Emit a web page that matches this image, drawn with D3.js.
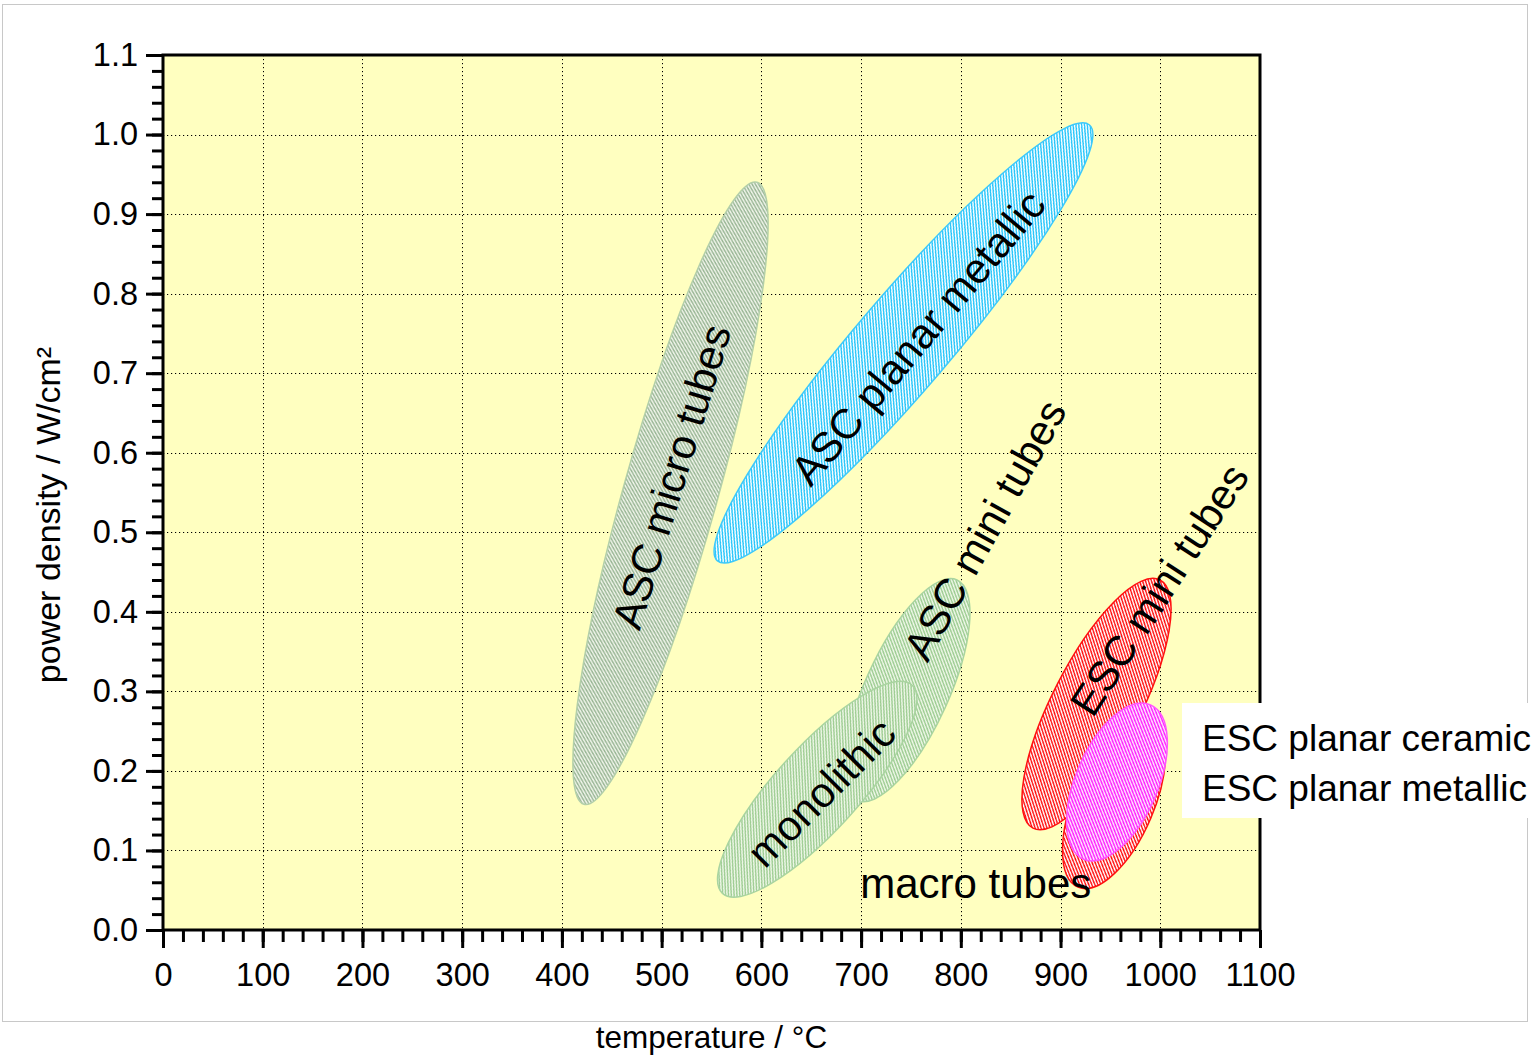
<!DOCTYPE html>
<html>
<head>
<meta charset="utf-8">
<script src="https://cdn.jsdelivr.net/npm/d3@7"></script>
<style>
  html, body { margin: 0; padding: 0; background: #fff; }
  svg { display: block; }
  text { font-family: "Liberation Sans", Arial, sans-serif; fill: #000; }
</style>
</head>
<body>
<svg id="chart" width="1537" height="1056"></svg>
<script>
// ---- data -------------------------------------------------------------
const xTicks = [0, 100, 200, 300, 400, 500, 600, 700, 800, 900, 1000, 1100];
const yTicks = [0.0, 0.1, 0.2, 0.3, 0.4, 0.5, 0.6, 0.7, 0.8, 0.9, 1.0, 1.1];

// operating regions: ends of each ellipse's long axis (temperature °C, power density W/cm²)
const regionIds   = ["ascMicro", "ascPlanar", "ascMini", "monolithic", "escMini", "escPlanarA", "escPlanarB"];
const regionT1    = [595.6, 929.0, 796.2, 751.0, 999.7, 989.7, 990.2];
const regionP1    = [0.940, 1.012, 0.440, 0.308, 0.440, 0.2665, 0.283];
const regionT2    = [422.2, 556.0, 695.9, 561.0, 872.4, 917.5, 923.0];
const regionP2    = [0.158, 0.464, 0.163, 0.046, 0.128, 0.054, 0.089];

const labelTexts  = ["ASC micro tubes", "ASC planar metallic", "ASC mini tubes", "monolithic", "ESC mini tubes", "macro tubes"];
const labelT      = [510, 757, 824, 660, 999, 815];
const labelP      = [0.570, 0.745, 0.503, 0.173, 0.428, 0.040];
const legendTexts = ["ESC planar ceramic", "ESC planar metallic"];

// ---- styles -----------------------------------------------------------
const regionStyle = {
  ascMicro:   { half: 47, line: "#9cb898", gap: "#eef3e8", edge: "#b3cfa9" },
  ascPlanar:  { half: 47, line: "#22c4fa", gap: "#ffffff", edge: "#3dc9fb" },
  ascMini:    { half: 42, line: "#9dcc92", gap: "#eff8e8", edge: "#a9d4a0" },
  monolithic: { half: 42, line: "#9dcc92", gap: "#eff8e8", edge: "#a9d4a0" },
  escMini:    { half: 44, line: "#ff1010", gap: "#ffffff", edge: "#ff1010" },
  escPlanarA: { half: 40, line: "#ff1010", gap: "#ffffff", edge: "#ff1010" },
  escPlanarB: { half: 41, line: "#ff22ff", gap: "#ffe6ff", edge: "#ff55ff" }
};
const labelAngle = [-73, -50, -61, -45, -57, 0];
// pixel cells of one 4x4 tile of the "/" hatch
const hatchCells = [[2,0],[3,0],[1,1],[2,1],[0,2],[1,2],[3,3],[0,3]];

// ---- layout -----------------------------------------------------------
const svg = d3.select("#chart");
const plot = { left: 163, right: 1260, top: 55, bottom: 930 };

const x = d3.scaleLinear().domain([0, 1100]).range([plot.left, plot.right]);
const y = d3.scaleLinear().domain([0, 1.1]).range([plot.bottom, plot.top]);

// outer frame
svg.append("rect")
  .attr("x", 2.5).attr("y", 4.5).attr("width", 1525).attr("height", 1017)
  .attr("fill", "#fff").attr("stroke", "#c8c8c8").attr("stroke-width", 1);

// plot background
svg.append("rect")
  .attr("x", plot.left).attr("y", plot.top)
  .attr("width", plot.right - plot.left).attr("height", plot.bottom - plot.top)
  .attr("fill", "#ffffc0");

// dotted grid
const grid = svg.append("g").attr("stroke", "#000").attr("stroke-width", 1)
  .attr("stroke-dasharray", "1.2,2.8");
grid.selectAll("line.gx").data(xTicks.slice(1, -1)).join("line")
  .attr("x1", d => Math.round(x(d)) + 0.5).attr("x2", d => Math.round(x(d)) + 0.5)
  .attr("y1", plot.top).attr("y2", plot.bottom);
grid.selectAll("line.gy").data(yTicks.slice(1, -1)).join("line")
  .attr("y1", d => Math.round(y(d)) + 0.5).attr("y2", d => Math.round(y(d)) + 0.5)
  .attr("x1", plot.left).attr("x2", plot.right);

// hatch patterns
const defs = svg.append("defs");
regionIds.forEach(id => {
  const s = regionStyle[id];
  const p = defs.append("pattern")
    .attr("id", "hatch-" + id)
    .attr("patternUnits", "userSpaceOnUse")
    .attr("width", 4).attr("height", 4);
  p.append("rect").attr("width", 4).attr("height", 4).attr("fill", s.gap);
  p.selectAll("rect.cell").data(hatchCells).join("rect")
    .attr("class", "cell")
    .attr("x", c => c[0]).attr("y", c => c[1])
    .attr("width", 1).attr("height", 1)
    .attr("fill", s.line)
    .attr("shape-rendering", "crispEdges");
});

// regions
const regions = regionIds.map((id, i) => ({
  id, t1: regionT1[i], p1: regionP1[i], t2: regionT2[i], p2: regionP2[i]
}));
svg.append("g").selectAll("ellipse").data(regions).join("ellipse")
  .each(function (d) {
    const x1 = x(d.t1), y1 = y(d.p1), x2 = x(d.t2), y2 = y(d.p2);
    const cx = (x1 + x2) / 2, cy = (y1 + y2) / 2;
    const rx = Math.hypot(x2 - x1, y2 - y1) / 2;
    const ang = Math.atan2(y1 - y2, x1 - x2) * 180 / Math.PI;
    d3.select(this)
      .attr("transform", `translate(${cx},${cy}) rotate(${ang})`)
      .attr("rx", rx).attr("ry", regionStyle[d.id].half);
  })
  .attr("fill", d => `url(#hatch-${d.id})`)
  .attr("stroke", d => regionStyle[d.id].edge)
  .attr("stroke-width", 1.5);

// region labels
svg.append("g").selectAll("text").data(labelTexts).join("text")
  .attr("transform", (d, i) => `translate(${x(labelT[i])},${y(labelP[i])}) rotate(${labelAngle[i]})`)
  .attr("text-anchor", "middle")
  .attr("dy", (d, i) => i === 5 ? "0" : "0.35em")
  .attr("font-size", 42)
  .text(d => d);

// axes: minor ticks
const minorY = d3.range(0, 1.1001, 0.02);
const minorX = d3.range(0, 1100.1, 20);
svg.append("g").attr("transform", `translate(${plot.left},0)`)
  .call(d3.axisLeft(y).tickValues(minorY).tickSize(11).tickFormat(""))
  .call(g => g.select(".domain").remove())
  .call(g => g.selectAll("line").attr("stroke-width", 3));
svg.append("g").attr("transform", `translate(0,${plot.bottom})`)
  .call(d3.axisBottom(x).tickValues(minorX).tickSize(12).tickFormat(""))
  .call(g => g.select(".domain").remove())
  .call(g => g.selectAll("line").attr("stroke-width", 3));

// axes: major ticks and labels
svg.append("g").attr("transform", `translate(${plot.left},0)`)
  .call(d3.axisLeft(y).tickValues(yTicks).tickSize(17).tickPadding(8).tickFormat(d3.format(".1f")))
  .call(g => g.select(".domain").remove())
  .call(g => g.selectAll("line").attr("stroke-width", 3))
  .call(g => g.selectAll("text").attr("font-size", 32.5).attr("font-family", "Liberation Sans, Arial, sans-serif"));
svg.append("g").attr("transform", `translate(0,${plot.bottom})`)
  .call(d3.axisBottom(x).tickValues(xTicks).tickSize(18).tickPadding(15).tickFormat(d3.format("d")))
  .call(g => g.select(".domain").remove())
  .call(g => g.selectAll("line").attr("stroke-width", 3))
  .call(g => g.selectAll("text").attr("font-size", 32.5).attr("font-family", "Liberation Sans, Arial, sans-serif"));

// plot frame
svg.append("rect")
  .attr("x", plot.left).attr("y", plot.top)
  .attr("width", plot.right - plot.left).attr("height", plot.bottom - plot.top)
  .attr("fill", "none").attr("stroke", "#000").attr("stroke-width", 3);

// legend box (text only)
svg.append("rect")
  .attr("x", 1182).attr("y", 703).attr("width", 360).attr("height", 115)
  .attr("fill", "#fff");
svg.append("g").selectAll("text").data(legendTexts).join("text")
  .attr("x", 1202).attr("y", (d, i) => 751 + i * 50)
  .attr("font-size", 37)
  .text(d => d);

// axis titles
svg.append("text")
  .attr("x", (plot.left + plot.right) / 2).attr("y", 1048)
  .attr("text-anchor", "middle").attr("font-size", 31.5)
  .text("temperature / °C");
svg.append("text")
  .attr("transform", "translate(60,515) rotate(-90)")
  .attr("text-anchor", "middle").attr("font-size", 34)
  .text("power density / W/cm²");
</script>
</body>
</html>
